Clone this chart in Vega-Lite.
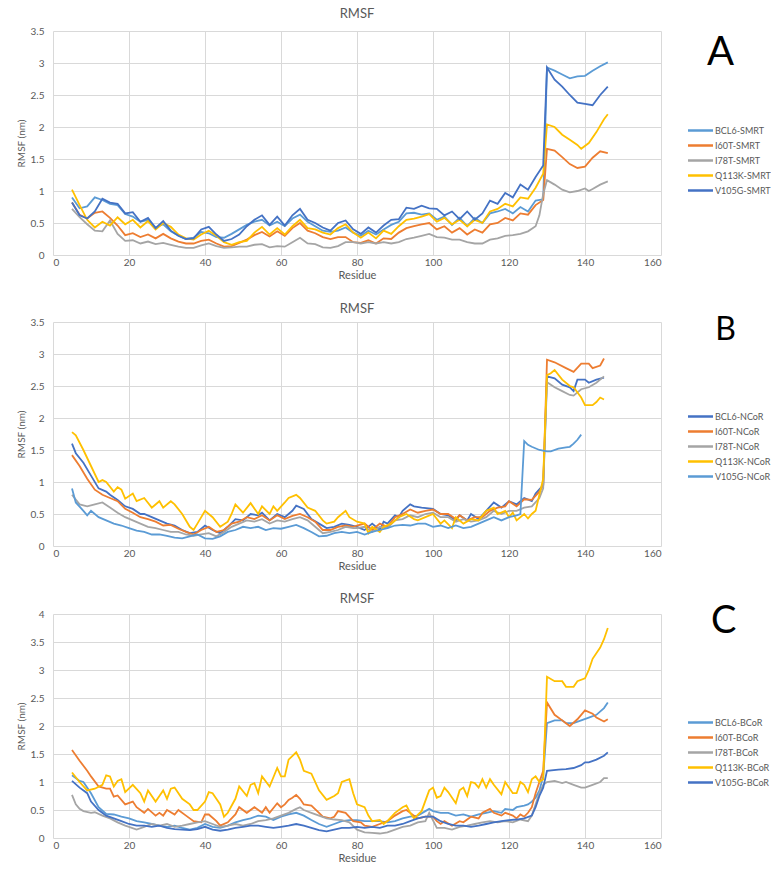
{
"$schema": "https://vega.github.io/schema/vega-lite/v6.json",
"padding": {"left": 16, "top": 8, "right": 0, "bottom": 0},
"spacing": 22,
"config": {
 "font": "Lato",
 "view": {"stroke": null},
 "title": {"fontSize": 13, "fontWeight": "normal", "color": "#595959"},
 "axis": {"grid": true, "gridColor": "#d9d9d9", "gridWidth": 1, "domain": false, "ticks": false, "labelColor": "#595959", "labelFontSize": 10, "titleColor": "#595959", "titleFontSize": 10, "titleFontWeight": "normal"},
 "axisX": {"labelPadding": 2, "titlePadding": 2, "titleFontSize": 11},
 "axisY": {"labelPadding": 9, "titlePadding": 4},
 "legend": {"title": null, "orient": "none", "symbolType": "M-2.5,0H2.5", "symbolSize": 100, "symbolStrokeWidth": 2.5, "symbolOffset": 6, "labelOffset": 8, "rowPadding": 3, "padding": 0, "labelFontSize": 9, "labelColor": "#595959", "labelFont": "Lato"}
},
"resolve": {"scale": {"color": "independent"}, "legend": {"color": "independent"}},
"datasets": {
"A": [
{"s":"BCL6","r":5,"v":0.90},{"s":"BCL6","r":7,"v":0.73},{"s":"BCL6","r":9,"v":0.76},{"s":"BCL6","r":11,"v":0.90},{"s":"BCL6","r":13,"v":0.86},{"s":"BCL6","r":15,"v":0.80},{"s":"BCL6","r":17,"v":0.78},{"s":"BCL6","r":19,"v":0.64},{"s":"BCL6","r":21,"v":0.60},{"s":"BCL6","r":23,"v":0.52},{"s":"BCL6","r":25,"v":0.55},{"s":"BCL6","r":27,"v":0.43},{"s":"BCL6","r":29,"v":0.48},{"s":"BCL6","r":31,"v":0.37},{"s":"BCL6","r":33,"v":0.30},{"s":"BCL6","r":35,"v":0.25},{"s":"BCL6","r":37,"v":0.27},{"s":"BCL6","r":39,"v":0.36},{"s":"BCL6","r":41,"v":0.34},{"s":"BCL6","r":43,"v":0.28},{"s":"BCL6","r":45,"v":0.27},{"s":"BCL6","r":47,"v":0.33},{"s":"BCL6","r":49,"v":0.40},{"s":"BCL6","r":51,"v":0.47},{"s":"BCL6","r":53,"v":0.52},{"s":"BCL6","r":55,"v":0.55},{"s":"BCL6","r":57,"v":0.46},{"s":"BCL6","r":59,"v":0.52},{"s":"BCL6","r":61,"v":0.45},{"s":"BCL6","r":63,"v":0.57},{"s":"BCL6","r":65,"v":0.63},{"s":"BCL6","r":67,"v":0.52},{"s":"BCL6","r":69,"v":0.45},{"s":"BCL6","r":71,"v":0.38},{"s":"BCL6","r":73,"v":0.36},{"s":"BCL6","r":75,"v":0.38},{"s":"BCL6","r":77,"v":0.43},{"s":"BCL6","r":79,"v":0.35},{"s":"BCL6","r":81,"v":0.30},{"s":"BCL6","r":83,"v":0.38},{"s":"BCL6","r":85,"v":0.32},{"s":"BCL6","r":87,"v":0.40},{"s":"BCL6","r":89,"v":0.47},{"s":"BCL6","r":91,"v":0.52},{"s":"BCL6","r":93,"v":0.65},{"s":"BCL6","r":95,"v":0.66},{"s":"BCL6","r":97,"v":0.63},{"s":"BCL6","r":99,"v":0.65},{"s":"BCL6","r":101,"v":0.55},{"s":"BCL6","r":103,"v":0.60},{"s":"BCL6","r":105,"v":0.47},{"s":"BCL6","r":107,"v":0.58},{"s":"BCL6","r":109,"v":0.45},{"s":"BCL6","r":111,"v":0.58},{"s":"BCL6","r":113,"v":0.50},{"s":"BCL6","r":115,"v":0.65},{"s":"BCL6","r":117,"v":0.68},{"s":"BCL6","r":119,"v":0.72},{"s":"BCL6","r":121,"v":0.65},{"s":"BCL6","r":123,"v":0.75},{"s":"BCL6","r":125,"v":0.68},{"s":"BCL6","r":127,"v":0.85},{"s":"BCL6","r":129,"v":0.87},{"s":"BCL6","r":130,"v":2.93},{"s":"BCL6","r":132,"v":2.88},{"s":"BCL6","r":134,"v":2.82},{"s":"BCL6","r":136,"v":2.76},{"s":"BCL6","r":138,"v":2.79},{"s":"BCL6","r":140,"v":2.80},{"s":"BCL6","r":142,"v":2.88},{"s":"BCL6","r":144,"v":2.95},{"s":"BCL6","r":146,"v":3.01},
{"s":"I60T","r":5,"v":0.82},{"s":"I60T","r":7,"v":0.63},{"s":"I60T","r":9,"v":0.57},{"s":"I60T","r":11,"v":0.66},{"s":"I60T","r":13,"v":0.68},{"s":"I60T","r":15,"v":0.58},{"s":"I60T","r":17,"v":0.46},{"s":"I60T","r":19,"v":0.31},{"s":"I60T","r":21,"v":0.34},{"s":"I60T","r":23,"v":0.28},{"s":"I60T","r":25,"v":0.32},{"s":"I60T","r":27,"v":0.26},{"s":"I60T","r":29,"v":0.33},{"s":"I60T","r":31,"v":0.26},{"s":"I60T","r":33,"v":0.21},{"s":"I60T","r":35,"v":0.18},{"s":"I60T","r":37,"v":0.18},{"s":"I60T","r":39,"v":0.22},{"s":"I60T","r":41,"v":0.24},{"s":"I60T","r":43,"v":0.18},{"s":"I60T","r":45,"v":0.13},{"s":"I60T","r":47,"v":0.14},{"s":"I60T","r":49,"v":0.19},{"s":"I60T","r":51,"v":0.24},{"s":"I60T","r":53,"v":0.31},{"s":"I60T","r":55,"v":0.36},{"s":"I60T","r":57,"v":0.29},{"s":"I60T","r":59,"v":0.37},{"s":"I60T","r":61,"v":0.30},{"s":"I60T","r":63,"v":0.42},{"s":"I60T","r":65,"v":0.50},{"s":"I60T","r":67,"v":0.38},{"s":"I60T","r":69,"v":0.34},{"s":"I60T","r":71,"v":0.28},{"s":"I60T","r":73,"v":0.25},{"s":"I60T","r":75,"v":0.28},{"s":"I60T","r":77,"v":0.28},{"s":"I60T","r":79,"v":0.20},{"s":"I60T","r":81,"v":0.19},{"s":"I60T","r":83,"v":0.23},{"s":"I60T","r":85,"v":0.18},{"s":"I60T","r":87,"v":0.26},{"s":"I60T","r":89,"v":0.25},{"s":"I60T","r":91,"v":0.35},{"s":"I60T","r":93,"v":0.42},{"s":"I60T","r":95,"v":0.45},{"s":"I60T","r":97,"v":0.48},{"s":"I60T","r":99,"v":0.50},{"s":"I60T","r":101,"v":0.40},{"s":"I60T","r":103,"v":0.45},{"s":"I60T","r":105,"v":0.35},{"s":"I60T","r":107,"v":0.42},{"s":"I60T","r":109,"v":0.32},{"s":"I60T","r":111,"v":0.40},{"s":"I60T","r":113,"v":0.35},{"s":"I60T","r":115,"v":0.48},{"s":"I60T","r":117,"v":0.50},{"s":"I60T","r":119,"v":0.58},{"s":"I60T","r":121,"v":0.54},{"s":"I60T","r":123,"v":0.65},{"s":"I60T","r":125,"v":0.63},{"s":"I60T","r":127,"v":0.78},{"s":"I60T","r":129,"v":0.86},{"s":"I60T","r":130,"v":1.66},{"s":"I60T","r":132,"v":1.63},{"s":"I60T","r":134,"v":1.53},{"s":"I60T","r":136,"v":1.42},{"s":"I60T","r":138,"v":1.36},{"s":"I60T","r":140,"v":1.38},{"s":"I60T","r":142,"v":1.52},{"s":"I60T","r":144,"v":1.62},{"s":"I60T","r":146,"v":1.59},
{"s":"I78T","r":5,"v":0.72},{"s":"I78T","r":7,"v":0.59},{"s":"I78T","r":9,"v":0.48},{"s":"I78T","r":11,"v":0.38},{"s":"I78T","r":13,"v":0.37},{"s":"I78T","r":15,"v":0.54},{"s":"I78T","r":17,"v":0.33},{"s":"I78T","r":19,"v":0.22},{"s":"I78T","r":21,"v":0.23},{"s":"I78T","r":23,"v":0.18},{"s":"I78T","r":25,"v":0.21},{"s":"I78T","r":27,"v":0.17},{"s":"I78T","r":29,"v":0.19},{"s":"I78T","r":31,"v":0.16},{"s":"I78T","r":33,"v":0.13},{"s":"I78T","r":35,"v":0.11},{"s":"I78T","r":37,"v":0.11},{"s":"I78T","r":39,"v":0.15},{"s":"I78T","r":41,"v":0.18},{"s":"I78T","r":43,"v":0.14},{"s":"I78T","r":45,"v":0.11},{"s":"I78T","r":47,"v":0.12},{"s":"I78T","r":49,"v":0.13},{"s":"I78T","r":51,"v":0.13},{"s":"I78T","r":53,"v":0.16},{"s":"I78T","r":55,"v":0.17},{"s":"I78T","r":57,"v":0.12},{"s":"I78T","r":59,"v":0.14},{"s":"I78T","r":61,"v":0.13},{"s":"I78T","r":63,"v":0.20},{"s":"I78T","r":65,"v":0.27},{"s":"I78T","r":67,"v":0.18},{"s":"I78T","r":69,"v":0.17},{"s":"I78T","r":71,"v":0.12},{"s":"I78T","r":73,"v":0.11},{"s":"I78T","r":75,"v":0.14},{"s":"I78T","r":77,"v":0.20},{"s":"I78T","r":79,"v":0.20},{"s":"I78T","r":81,"v":0.18},{"s":"I78T","r":83,"v":0.20},{"s":"I78T","r":85,"v":0.18},{"s":"I78T","r":87,"v":0.20},{"s":"I78T","r":89,"v":0.18},{"s":"I78T","r":91,"v":0.20},{"s":"I78T","r":93,"v":0.25},{"s":"I78T","r":95,"v":0.27},{"s":"I78T","r":97,"v":0.30},{"s":"I78T","r":99,"v":0.33},{"s":"I78T","r":101,"v":0.28},{"s":"I78T","r":103,"v":0.27},{"s":"I78T","r":105,"v":0.24},{"s":"I78T","r":107,"v":0.24},{"s":"I78T","r":109,"v":0.20},{"s":"I78T","r":111,"v":0.18},{"s":"I78T","r":113,"v":0.18},{"s":"I78T","r":115,"v":0.24},{"s":"I78T","r":117,"v":0.26},{"s":"I78T","r":119,"v":0.30},{"s":"I78T","r":121,"v":0.31},{"s":"I78T","r":123,"v":0.33},{"s":"I78T","r":125,"v":0.37},{"s":"I78T","r":127,"v":0.45},{"s":"I78T","r":128,"v":0.62},{"s":"I78T","r":129,"v":0.95},{"s":"I78T","r":130,"v":1.17},{"s":"I78T","r":132,"v":1.10},{"s":"I78T","r":134,"v":1.02},{"s":"I78T","r":136,"v":0.98},{"s":"I78T","r":138,"v":1.00},{"s":"I78T","r":140,"v":1.04},{"s":"I78T","r":141,"v":1.00},{"s":"I78T","r":142,"v":1.03},{"s":"I78T","r":144,"v":1.10},{"s":"I78T","r":146,"v":1.15},
{"s":"Q113K","r":5,"v":1.02},{"s":"Q113K","r":7,"v":0.78},{"s":"Q113K","r":9,"v":0.55},{"s":"Q113K","r":11,"v":0.43},{"s":"Q113K","r":13,"v":0.52},{"s":"Q113K","r":15,"v":0.46},{"s":"Q113K","r":17,"v":0.59},{"s":"Q113K","r":19,"v":0.48},{"s":"Q113K","r":21,"v":0.55},{"s":"Q113K","r":23,"v":0.43},{"s":"Q113K","r":25,"v":0.53},{"s":"Q113K","r":27,"v":0.40},{"s":"Q113K","r":29,"v":0.50},{"s":"Q113K","r":31,"v":0.44},{"s":"Q113K","r":33,"v":0.32},{"s":"Q113K","r":35,"v":0.26},{"s":"Q113K","r":37,"v":0.24},{"s":"Q113K","r":39,"v":0.32},{"s":"Q113K","r":41,"v":0.38},{"s":"Q113K","r":43,"v":0.30},{"s":"Q113K","r":45,"v":0.20},{"s":"Q113K","r":47,"v":0.16},{"s":"Q113K","r":49,"v":0.20},{"s":"Q113K","r":51,"v":0.22},{"s":"Q113K","r":53,"v":0.35},{"s":"Q113K","r":55,"v":0.44},{"s":"Q113K","r":57,"v":0.32},{"s":"Q113K","r":59,"v":0.42},{"s":"Q113K","r":61,"v":0.32},{"s":"Q113K","r":63,"v":0.45},{"s":"Q113K","r":65,"v":0.55},{"s":"Q113K","r":67,"v":0.42},{"s":"Q113K","r":69,"v":0.40},{"s":"Q113K","r":71,"v":0.35},{"s":"Q113K","r":73,"v":0.32},{"s":"Q113K","r":75,"v":0.42},{"s":"Q113K","r":77,"v":0.48},{"s":"Q113K","r":79,"v":0.35},{"s":"Q113K","r":81,"v":0.27},{"s":"Q113K","r":83,"v":0.35},{"s":"Q113K","r":85,"v":0.26},{"s":"Q113K","r":87,"v":0.38},{"s":"Q113K","r":89,"v":0.33},{"s":"Q113K","r":91,"v":0.45},{"s":"Q113K","r":93,"v":0.55},{"s":"Q113K","r":95,"v":0.57},{"s":"Q113K","r":97,"v":0.60},{"s":"Q113K","r":99,"v":0.64},{"s":"Q113K","r":101,"v":0.52},{"s":"Q113K","r":103,"v":0.58},{"s":"Q113K","r":105,"v":0.48},{"s":"Q113K","r":107,"v":0.55},{"s":"Q113K","r":109,"v":0.45},{"s":"Q113K","r":111,"v":0.55},{"s":"Q113K","r":113,"v":0.50},{"s":"Q113K","r":115,"v":0.68},{"s":"Q113K","r":117,"v":0.72},{"s":"Q113K","r":119,"v":0.80},{"s":"Q113K","r":121,"v":0.76},{"s":"Q113K","r":123,"v":0.90},{"s":"Q113K","r":125,"v":0.88},{"s":"Q113K","r":127,"v":1.05},{"s":"Q113K","r":129,"v":1.27},{"s":"Q113K","r":130,"v":2.04},{"s":"Q113K","r":132,"v":2.00},{"s":"Q113K","r":134,"v":1.88},{"s":"Q113K","r":136,"v":1.80},{"s":"Q113K","r":138,"v":1.72},{"s":"Q113K","r":139,"v":1.66},{"s":"Q113K","r":141,"v":1.75},{"s":"Q113K","r":143,"v":1.92},{"s":"Q113K","r":145,"v":2.12},{"s":"Q113K","r":146,"v":2.20},
{"s":"V105G","r":5,"v":0.82},{"s":"V105G","r":7,"v":0.62},{"s":"V105G","r":9,"v":0.57},{"s":"V105G","r":11,"v":0.68},{"s":"V105G","r":13,"v":0.88},{"s":"V105G","r":15,"v":0.82},{"s":"V105G","r":17,"v":0.80},{"s":"V105G","r":19,"v":0.65},{"s":"V105G","r":21,"v":0.67},{"s":"V105G","r":23,"v":0.52},{"s":"V105G","r":25,"v":0.58},{"s":"V105G","r":27,"v":0.42},{"s":"V105G","r":29,"v":0.53},{"s":"V105G","r":31,"v":0.38},{"s":"V105G","r":33,"v":0.30},{"s":"V105G","r":35,"v":0.25},{"s":"V105G","r":37,"v":0.26},{"s":"V105G","r":39,"v":0.40},{"s":"V105G","r":41,"v":0.44},{"s":"V105G","r":43,"v":0.32},{"s":"V105G","r":45,"v":0.22},{"s":"V105G","r":47,"v":0.25},{"s":"V105G","r":49,"v":0.32},{"s":"V105G","r":51,"v":0.45},{"s":"V105G","r":53,"v":0.55},{"s":"V105G","r":55,"v":0.62},{"s":"V105G","r":57,"v":0.47},{"s":"V105G","r":59,"v":0.60},{"s":"V105G","r":61,"v":0.46},{"s":"V105G","r":63,"v":0.62},{"s":"V105G","r":65,"v":0.72},{"s":"V105G","r":67,"v":0.55},{"s":"V105G","r":69,"v":0.50},{"s":"V105G","r":71,"v":0.43},{"s":"V105G","r":73,"v":0.38},{"s":"V105G","r":75,"v":0.50},{"s":"V105G","r":77,"v":0.54},{"s":"V105G","r":79,"v":0.40},{"s":"V105G","r":81,"v":0.33},{"s":"V105G","r":83,"v":0.43},{"s":"V105G","r":85,"v":0.35},{"s":"V105G","r":87,"v":0.46},{"s":"V105G","r":89,"v":0.55},{"s":"V105G","r":91,"v":0.56},{"s":"V105G","r":93,"v":0.74},{"s":"V105G","r":95,"v":0.72},{"s":"V105G","r":97,"v":0.77},{"s":"V105G","r":99,"v":0.73},{"s":"V105G","r":101,"v":0.72},{"s":"V105G","r":103,"v":0.62},{"s":"V105G","r":105,"v":0.68},{"s":"V105G","r":107,"v":0.56},{"s":"V105G","r":109,"v":0.68},{"s":"V105G","r":111,"v":0.55},{"s":"V105G","r":113,"v":0.65},{"s":"V105G","r":115,"v":0.85},{"s":"V105G","r":117,"v":0.80},{"s":"V105G","r":119,"v":0.97},{"s":"V105G","r":121,"v":0.90},{"s":"V105G","r":123,"v":1.10},{"s":"V105G","r":125,"v":1.02},{"s":"V105G","r":127,"v":1.22},{"s":"V105G","r":129,"v":1.40},{"s":"V105G","r":130,"v":2.93},{"s":"V105G","r":132,"v":2.74},{"s":"V105G","r":134,"v":2.63},{"s":"V105G","r":136,"v":2.50},{"s":"V105G","r":138,"v":2.38},{"s":"V105G","r":140,"v":2.36},{"s":"V105G","r":142,"v":2.34},{"s":"V105G","r":144,"v":2.50},{"s":"V105G","r":146,"v":2.63}
],
"B": [
{"s":"BCL6","r":5,"v":1.60},{"s":"BCL6","r":6,"v":1.45},{"s":"BCL6","r":8,"v":1.30},{"s":"BCL6","r":10,"v":1.10},{"s":"BCL6","r":12,"v":0.90},{"s":"BCL6","r":14,"v":0.85},{"s":"BCL6","r":15,"v":0.80},{"s":"BCL6","r":17,"v":0.72},{"s":"BCL6","r":19,"v":0.62},{"s":"BCL6","r":21,"v":0.58},{"s":"BCL6","r":23,"v":0.50},{"s":"BCL6","r":24,"v":0.50},{"s":"BCL6","r":26,"v":0.45},{"s":"BCL6","r":28,"v":0.40},{"s":"BCL6","r":30,"v":0.35},{"s":"BCL6","r":32,"v":0.32},{"s":"BCL6","r":34,"v":0.25},{"s":"BCL6","r":36,"v":0.20},{"s":"BCL6","r":38,"v":0.22},{"s":"BCL6","r":40,"v":0.32},{"s":"BCL6","r":42,"v":0.25},{"s":"BCL6","r":44,"v":0.20},{"s":"BCL6","r":46,"v":0.30},{"s":"BCL6","r":48,"v":0.42},{"s":"BCL6","r":50,"v":0.40},{"s":"BCL6","r":52,"v":0.50},{"s":"BCL6","r":54,"v":0.48},{"s":"BCL6","r":55,"v":0.52},{"s":"BCL6","r":57,"v":0.40},{"s":"BCL6","r":59,"v":0.50},{"s":"BCL6","r":61,"v":0.45},{"s":"BCL6","r":63,"v":0.55},{"s":"BCL6","r":64,"v":0.63},{"s":"BCL6","r":66,"v":0.58},{"s":"BCL6","r":68,"v":0.42},{"s":"BCL6","r":70,"v":0.35},{"s":"BCL6","r":72,"v":0.28},{"s":"BCL6","r":74,"v":0.30},{"s":"BCL6","r":76,"v":0.35},{"s":"BCL6","r":78,"v":0.33},{"s":"BCL6","r":80,"v":0.30},{"s":"BCL6","r":82,"v":0.25},{"s":"BCL6","r":84,"v":0.35},{"s":"BCL6","r":86,"v":0.25},{"s":"BCL6","r":87,"v":0.38},{"s":"BCL6","r":88,"v":0.35},{"s":"BCL6","r":90,"v":0.48},{"s":"BCL6","r":91,"v":0.45},{"s":"BCL6","r":92,"v":0.55},{"s":"BCL6","r":94,"v":0.65},{"s":"BCL6","r":95,"v":0.62},{"s":"BCL6","r":97,"v":0.60},{"s":"BCL6","r":100,"v":0.58},{"s":"BCL6","r":102,"v":0.50},{"s":"BCL6","r":104,"v":0.48},{"s":"BCL6","r":106,"v":0.40},{"s":"BCL6","r":107,"v":0.48},{"s":"BCL6","r":109,"v":0.40},{"s":"BCL6","r":110,"v":0.50},{"s":"BCL6","r":112,"v":0.42},{"s":"BCL6","r":114,"v":0.55},{"s":"BCL6","r":116,"v":0.68},{"s":"BCL6","r":118,"v":0.60},{"s":"BCL6","r":120,"v":0.70},{"s":"BCL6","r":122,"v":0.65},{"s":"BCL6","r":124,"v":0.75},{"s":"BCL6","r":126,"v":0.70},{"s":"BCL6","r":127,"v":0.82},{"s":"BCL6","r":129,"v":0.95},{"s":"BCL6","r":130,"v":2.65},{"s":"BCL6","r":132,"v":2.62},{"s":"BCL6","r":134,"v":2.52},{"s":"BCL6","r":136,"v":2.48},{"s":"BCL6","r":137,"v":2.42},{"s":"BCL6","r":138,"v":2.60},{"s":"BCL6","r":140,"v":2.60},{"s":"BCL6","r":141,"v":2.55},{"s":"BCL6","r":143,"v":2.60},{"s":"BCL6","r":145,"v":2.63},
{"s":"I60T","r":5,"v":1.42},{"s":"I60T","r":7,"v":1.25},{"s":"I60T","r":9,"v":1.05},{"s":"I60T","r":11,"v":0.88},{"s":"I60T","r":13,"v":0.80},{"s":"I60T","r":15,"v":0.75},{"s":"I60T","r":17,"v":0.70},{"s":"I60T","r":19,"v":0.58},{"s":"I60T","r":21,"v":0.52},{"s":"I60T","r":23,"v":0.45},{"s":"I60T","r":25,"v":0.42},{"s":"I60T","r":27,"v":0.38},{"s":"I60T","r":29,"v":0.32},{"s":"I60T","r":31,"v":0.33},{"s":"I60T","r":33,"v":0.27},{"s":"I60T","r":35,"v":0.22},{"s":"I60T","r":37,"v":0.18},{"s":"I60T","r":39,"v":0.25},{"s":"I60T","r":41,"v":0.30},{"s":"I60T","r":43,"v":0.22},{"s":"I60T","r":45,"v":0.25},{"s":"I60T","r":47,"v":0.35},{"s":"I60T","r":49,"v":0.38},{"s":"I60T","r":51,"v":0.45},{"s":"I60T","r":53,"v":0.42},{"s":"I60T","r":55,"v":0.48},{"s":"I60T","r":57,"v":0.40},{"s":"I60T","r":59,"v":0.48},{"s":"I60T","r":61,"v":0.42},{"s":"I60T","r":63,"v":0.47},{"s":"I60T","r":65,"v":0.50},{"s":"I60T","r":67,"v":0.45},{"s":"I60T","r":69,"v":0.38},{"s":"I60T","r":71,"v":0.25},{"s":"I60T","r":73,"v":0.25},{"s":"I60T","r":75,"v":0.30},{"s":"I60T","r":77,"v":0.32},{"s":"I60T","r":79,"v":0.30},{"s":"I60T","r":80,"v":0.32},{"s":"I60T","r":82,"v":0.35},{"s":"I60T","r":84,"v":0.25},{"s":"I60T","r":86,"v":0.35},{"s":"I60T","r":88,"v":0.30},{"s":"I60T","r":90,"v":0.45},{"s":"I60T","r":92,"v":0.50},{"s":"I60T","r":94,"v":0.57},{"s":"I60T","r":96,"v":0.52},{"s":"I60T","r":98,"v":0.55},{"s":"I60T","r":100,"v":0.57},{"s":"I60T","r":102,"v":0.50},{"s":"I60T","r":104,"v":0.50},{"s":"I60T","r":106,"v":0.42},{"s":"I60T","r":107,"v":0.48},{"s":"I60T","r":109,"v":0.40},{"s":"I60T","r":111,"v":0.45},{"s":"I60T","r":113,"v":0.45},{"s":"I60T","r":115,"v":0.55},{"s":"I60T","r":117,"v":0.60},{"s":"I60T","r":119,"v":0.62},{"s":"I60T","r":120,"v":0.70},{"s":"I60T","r":122,"v":0.62},{"s":"I60T","r":124,"v":0.73},{"s":"I60T","r":126,"v":0.72},{"s":"I60T","r":128,"v":0.85},{"s":"I60T","r":129,"v":0.95},{"s":"I60T","r":130,"v":2.91},{"s":"I60T","r":132,"v":2.87},{"s":"I60T","r":135,"v":2.78},{"s":"I60T","r":137,"v":2.72},{"s":"I60T","r":139,"v":2.85},{"s":"I60T","r":141,"v":2.85},{"s":"I60T","r":142,"v":2.78},{"s":"I60T","r":144,"v":2.82},{"s":"I60T","r":145,"v":2.93},
{"s":"I78T","r":5,"v":0.80},{"s":"I78T","r":7,"v":0.65},{"s":"I78T","r":9,"v":0.62},{"s":"I78T","r":11,"v":0.65},{"s":"I78T","r":13,"v":0.68},{"s":"I78T","r":15,"v":0.60},{"s":"I78T","r":17,"v":0.52},{"s":"I78T","r":19,"v":0.45},{"s":"I78T","r":21,"v":0.40},{"s":"I78T","r":23,"v":0.35},{"s":"I78T","r":25,"v":0.30},{"s":"I78T","r":27,"v":0.28},{"s":"I78T","r":29,"v":0.25},{"s":"I78T","r":31,"v":0.22},{"s":"I78T","r":33,"v":0.22},{"s":"I78T","r":35,"v":0.18},{"s":"I78T","r":37,"v":0.16},{"s":"I78T","r":39,"v":0.18},{"s":"I78T","r":41,"v":0.20},{"s":"I78T","r":43,"v":0.15},{"s":"I78T","r":45,"v":0.22},{"s":"I78T","r":47,"v":0.30},{"s":"I78T","r":49,"v":0.35},{"s":"I78T","r":51,"v":0.40},{"s":"I78T","r":53,"v":0.38},{"s":"I78T","r":55,"v":0.42},{"s":"I78T","r":57,"v":0.35},{"s":"I78T","r":59,"v":0.40},{"s":"I78T","r":61,"v":0.38},{"s":"I78T","r":63,"v":0.42},{"s":"I78T","r":65,"v":0.45},{"s":"I78T","r":67,"v":0.40},{"s":"I78T","r":69,"v":0.30},{"s":"I78T","r":71,"v":0.20},{"s":"I78T","r":73,"v":0.22},{"s":"I78T","r":75,"v":0.25},{"s":"I78T","r":77,"v":0.30},{"s":"I78T","r":79,"v":0.28},{"s":"I78T","r":80,"v":0.28},{"s":"I78T","r":82,"v":0.30},{"s":"I78T","r":84,"v":0.22},{"s":"I78T","r":86,"v":0.30},{"s":"I78T","r":88,"v":0.28},{"s":"I78T","r":90,"v":0.40},{"s":"I78T","r":92,"v":0.42},{"s":"I78T","r":94,"v":0.48},{"s":"I78T","r":96,"v":0.45},{"s":"I78T","r":98,"v":0.50},{"s":"I78T","r":100,"v":0.52},{"s":"I78T","r":102,"v":0.45},{"s":"I78T","r":104,"v":0.45},{"s":"I78T","r":106,"v":0.38},{"s":"I78T","r":108,"v":0.42},{"s":"I78T","r":110,"v":0.38},{"s":"I78T","r":112,"v":0.40},{"s":"I78T","r":114,"v":0.45},{"s":"I78T","r":116,"v":0.55},{"s":"I78T","r":118,"v":0.50},{"s":"I78T","r":120,"v":0.55},{"s":"I78T","r":122,"v":0.55},{"s":"I78T","r":124,"v":0.60},{"s":"I78T","r":126,"v":0.62},{"s":"I78T","r":128,"v":0.75},{"s":"I78T","r":129,"v":0.90},{"s":"I78T","r":130,"v":2.56},{"s":"I78T","r":132,"v":2.48},{"s":"I78T","r":134,"v":2.42},{"s":"I78T","r":136,"v":2.36},{"s":"I78T","r":137,"v":2.35},{"s":"I78T","r":139,"v":2.45},{"s":"I78T","r":141,"v":2.48},{"s":"I78T","r":143,"v":2.55},{"s":"I78T","r":145,"v":2.65},
{"s":"Q113K","r":5,"v":1.78},{"s":"Q113K","r":6,"v":1.73},{"s":"Q113K","r":8,"v":1.50},{"s":"Q113K","r":10,"v":1.25},{"s":"Q113K","r":12,"v":1.00},{"s":"Q113K","r":13,"v":1.03},{"s":"Q113K","r":14,"v":1.00},{"s":"Q113K","r":16,"v":0.85},{"s":"Q113K","r":17,"v":0.92},{"s":"Q113K","r":18,"v":0.88},{"s":"Q113K","r":19,"v":0.74},{"s":"Q113K","r":21,"v":0.82},{"s":"Q113K","r":22,"v":0.70},{"s":"Q113K","r":24,"v":0.75},{"s":"Q113K","r":26,"v":0.60},{"s":"Q113K","r":28,"v":0.70},{"s":"Q113K","r":29,"v":0.60},{"s":"Q113K","r":31,"v":0.70},{"s":"Q113K","r":32,"v":0.65},{"s":"Q113K","r":34,"v":0.50},{"s":"Q113K","r":36,"v":0.30},{"s":"Q113K","r":37,"v":0.25},{"s":"Q113K","r":38,"v":0.35},{"s":"Q113K","r":40,"v":0.55},{"s":"Q113K","r":42,"v":0.45},{"s":"Q113K","r":44,"v":0.30},{"s":"Q113K","r":46,"v":0.38},{"s":"Q113K","r":47,"v":0.50},{"s":"Q113K","r":48,"v":0.65},{"s":"Q113K","r":50,"v":0.52},{"s":"Q113K","r":52,"v":0.67},{"s":"Q113K","r":54,"v":0.50},{"s":"Q113K","r":55,"v":0.62},{"s":"Q113K","r":57,"v":0.50},{"s":"Q113K","r":58,"v":0.62},{"s":"Q113K","r":59,"v":0.55},{"s":"Q113K","r":61,"v":0.68},{"s":"Q113K","r":62,"v":0.75},{"s":"Q113K","r":64,"v":0.80},{"s":"Q113K","r":65,"v":0.75},{"s":"Q113K","r":67,"v":0.60},{"s":"Q113K","r":69,"v":0.55},{"s":"Q113K","r":71,"v":0.40},{"s":"Q113K","r":72,"v":0.35},{"s":"Q113K","r":74,"v":0.38},{"s":"Q113K","r":75,"v":0.45},{"s":"Q113K","r":77,"v":0.55},{"s":"Q113K","r":78,"v":0.45},{"s":"Q113K","r":80,"v":0.38},{"s":"Q113K","r":82,"v":0.35},{"s":"Q113K","r":83,"v":0.20},{"s":"Q113K","r":84,"v":0.30},{"s":"Q113K","r":86,"v":0.22},{"s":"Q113K","r":87,"v":0.30},{"s":"Q113K","r":89,"v":0.35},{"s":"Q113K","r":91,"v":0.45},{"s":"Q113K","r":93,"v":0.50},{"s":"Q113K","r":95,"v":0.42},{"s":"Q113K","r":96,"v":0.40},{"s":"Q113K","r":98,"v":0.45},{"s":"Q113K","r":100,"v":0.50},{"s":"Q113K","r":102,"v":0.35},{"s":"Q113K","r":103,"v":0.40},{"s":"Q113K","r":105,"v":0.28},{"s":"Q113K","r":106,"v":0.45},{"s":"Q113K","r":108,"v":0.35},{"s":"Q113K","r":110,"v":0.42},{"s":"Q113K","r":112,"v":0.40},{"s":"Q113K","r":114,"v":0.55},{"s":"Q113K","r":116,"v":0.60},{"s":"Q113K","r":117,"v":0.50},{"s":"Q113K","r":119,"v":0.55},{"s":"Q113K","r":120,"v":0.45},{"s":"Q113K","r":121,"v":0.52},{"s":"Q113K","r":122,"v":0.40},{"s":"Q113K","r":124,"v":0.50},{"s":"Q113K","r":125,"v":0.43},{"s":"Q113K","r":126,"v":0.50},{"s":"Q113K","r":127,"v":0.55},{"s":"Q113K","r":128,"v":0.80},{"s":"Q113K","r":129,"v":1.05},{"s":"Q113K","r":130,"v":2.67},{"s":"Q113K","r":131,"v":2.70},{"s":"Q113K","r":132,"v":2.75},{"s":"Q113K","r":134,"v":2.60},{"s":"Q113K","r":136,"v":2.50},{"s":"Q113K","r":137,"v":2.48},{"s":"Q113K","r":139,"v":2.32},{"s":"Q113K","r":140,"v":2.20},{"s":"Q113K","r":142,"v":2.20},{"s":"Q113K","r":143,"v":2.25},{"s":"Q113K","r":144,"v":2.32},{"s":"Q113K","r":145,"v":2.29},
{"s":"V105G","r":5,"v":0.90},{"s":"V105G","r":6,"v":0.68},{"s":"V105G","r":8,"v":0.55},{"s":"V105G","r":9,"v":0.48},{"s":"V105G","r":10,"v":0.55},{"s":"V105G","r":12,"v":0.45},{"s":"V105G","r":14,"v":0.40},{"s":"V105G","r":16,"v":0.35},{"s":"V105G","r":18,"v":0.32},{"s":"V105G","r":20,"v":0.28},{"s":"V105G","r":22,"v":0.24},{"s":"V105G","r":24,"v":0.22},{"s":"V105G","r":26,"v":0.18},{"s":"V105G","r":28,"v":0.18},{"s":"V105G","r":30,"v":0.16},{"s":"V105G","r":32,"v":0.13},{"s":"V105G","r":34,"v":0.12},{"s":"V105G","r":36,"v":0.15},{"s":"V105G","r":38,"v":0.18},{"s":"V105G","r":40,"v":0.12},{"s":"V105G","r":42,"v":0.11},{"s":"V105G","r":44,"v":0.15},{"s":"V105G","r":46,"v":0.22},{"s":"V105G","r":48,"v":0.25},{"s":"V105G","r":50,"v":0.30},{"s":"V105G","r":52,"v":0.28},{"s":"V105G","r":54,"v":0.30},{"s":"V105G","r":56,"v":0.25},{"s":"V105G","r":58,"v":0.28},{"s":"V105G","r":60,"v":0.27},{"s":"V105G","r":62,"v":0.30},{"s":"V105G","r":64,"v":0.33},{"s":"V105G","r":66,"v":0.28},{"s":"V105G","r":68,"v":0.22},{"s":"V105G","r":70,"v":0.15},{"s":"V105G","r":72,"v":0.16},{"s":"V105G","r":74,"v":0.20},{"s":"V105G","r":76,"v":0.22},{"s":"V105G","r":78,"v":0.20},{"s":"V105G","r":80,"v":0.22},{"s":"V105G","r":82,"v":0.18},{"s":"V105G","r":84,"v":0.22},{"s":"V105G","r":86,"v":0.25},{"s":"V105G","r":88,"v":0.28},{"s":"V105G","r":90,"v":0.32},{"s":"V105G","r":92,"v":0.33},{"s":"V105G","r":94,"v":0.32},{"s":"V105G","r":96,"v":0.35},{"s":"V105G","r":98,"v":0.35},{"s":"V105G","r":100,"v":0.30},{"s":"V105G","r":102,"v":0.32},{"s":"V105G","r":104,"v":0.28},{"s":"V105G","r":106,"v":0.32},{"s":"V105G","r":108,"v":0.28},{"s":"V105G","r":110,"v":0.30},{"s":"V105G","r":112,"v":0.35},{"s":"V105G","r":114,"v":0.40},{"s":"V105G","r":116,"v":0.45},{"s":"V105G","r":118,"v":0.40},{"s":"V105G","r":120,"v":0.45},{"s":"V105G","r":122,"v":0.48},{"s":"V105G","r":123,"v":0.50},{"s":"V105G","r":124,"v":1.64},{"s":"V105G","r":125,"v":1.58},{"s":"V105G","r":126,"v":1.55},{"s":"V105G","r":128,"v":1.50},{"s":"V105G","r":130,"v":1.48},{"s":"V105G","r":131,"v":1.48},{"s":"V105G","r":133,"v":1.52},{"s":"V105G","r":135,"v":1.54},{"s":"V105G","r":136,"v":1.55},{"s":"V105G","r":137,"v":1.60},{"s":"V105G","r":138,"v":1.66},{"s":"V105G","r":139,"v":1.74}
],
"C": [
{"s":"BCL6","r":5,"v":1.12},{"s":"BCL6","r":7,"v":1.02},{"s":"BCL6","r":8,"v":1.00},{"s":"BCL6","r":10,"v":0.80},{"s":"BCL6","r":12,"v":0.55},{"s":"BCL6","r":14,"v":0.43},{"s":"BCL6","r":16,"v":0.42},{"s":"BCL6","r":18,"v":0.38},{"s":"BCL6","r":20,"v":0.35},{"s":"BCL6","r":22,"v":0.30},{"s":"BCL6","r":24,"v":0.28},{"s":"BCL6","r":26,"v":0.25},{"s":"BCL6","r":28,"v":0.22},{"s":"BCL6","r":30,"v":0.20},{"s":"BCL6","r":32,"v":0.22},{"s":"BCL6","r":34,"v":0.18},{"s":"BCL6","r":36,"v":0.15},{"s":"BCL6","r":38,"v":0.18},{"s":"BCL6","r":40,"v":0.25},{"s":"BCL6","r":42,"v":0.20},{"s":"BCL6","r":44,"v":0.18},{"s":"BCL6","r":46,"v":0.22},{"s":"BCL6","r":48,"v":0.28},{"s":"BCL6","r":50,"v":0.32},{"s":"BCL6","r":52,"v":0.35},{"s":"BCL6","r":54,"v":0.40},{"s":"BCL6","r":56,"v":0.38},{"s":"BCL6","r":58,"v":0.32},{"s":"BCL6","r":60,"v":0.38},{"s":"BCL6","r":62,"v":0.42},{"s":"BCL6","r":64,"v":0.45},{"s":"BCL6","r":66,"v":0.40},{"s":"BCL6","r":68,"v":0.32},{"s":"BCL6","r":70,"v":0.25},{"s":"BCL6","r":72,"v":0.20},{"s":"BCL6","r":74,"v":0.25},{"s":"BCL6","r":76,"v":0.30},{"s":"BCL6","r":78,"v":0.32},{"s":"BCL6","r":80,"v":0.32},{"s":"BCL6","r":82,"v":0.30},{"s":"BCL6","r":84,"v":0.30},{"s":"BCL6","r":86,"v":0.30},{"s":"BCL6","r":88,"v":0.28},{"s":"BCL6","r":90,"v":0.30},{"s":"BCL6","r":92,"v":0.35},{"s":"BCL6","r":94,"v":0.38},{"s":"BCL6","r":96,"v":0.40},{"s":"BCL6","r":98,"v":0.48},{"s":"BCL6","r":99,"v":0.52},{"s":"BCL6","r":100,"v":0.48},{"s":"BCL6","r":102,"v":0.45},{"s":"BCL6","r":104,"v":0.45},{"s":"BCL6","r":106,"v":0.40},{"s":"BCL6","r":108,"v":0.42},{"s":"BCL6","r":110,"v":0.38},{"s":"BCL6","r":112,"v":0.42},{"s":"BCL6","r":114,"v":0.45},{"s":"BCL6","r":116,"v":0.48},{"s":"BCL6","r":118,"v":0.45},{"s":"BCL6","r":119,"v":0.52},{"s":"BCL6","r":121,"v":0.50},{"s":"BCL6","r":122,"v":0.55},{"s":"BCL6","r":124,"v":0.58},{"s":"BCL6","r":125,"v":0.60},{"s":"BCL6","r":126,"v":0.65},{"s":"BCL6","r":127,"v":0.72},{"s":"BCL6","r":128,"v":0.85},{"s":"BCL6","r":129,"v":1.10},{"s":"BCL6","r":130,"v":2.05},{"s":"BCL6","r":132,"v":2.10},{"s":"BCL6","r":134,"v":2.10},{"s":"BCL6","r":135,"v":2.05},{"s":"BCL6","r":137,"v":2.05},{"s":"BCL6","r":139,"v":2.10},{"s":"BCL6","r":141,"v":2.15},{"s":"BCL6","r":143,"v":2.20},{"s":"BCL6","r":145,"v":2.32},{"s":"BCL6","r":146,"v":2.42},
{"s":"I60T","r":5,"v":1.57},{"s":"I60T","r":7,"v":1.38},{"s":"I60T","r":9,"v":1.20},{"s":"I60T","r":10,"v":1.10},{"s":"I60T","r":12,"v":0.92},{"s":"I60T","r":14,"v":0.88},{"s":"I60T","r":15,"v":0.88},{"s":"I60T","r":16,"v":0.74},{"s":"I60T","r":17,"v":0.76},{"s":"I60T","r":19,"v":0.60},{"s":"I60T","r":21,"v":0.65},{"s":"I60T","r":22,"v":0.55},{"s":"I60T","r":24,"v":0.45},{"s":"I60T","r":25,"v":0.52},{"s":"I60T","r":27,"v":0.40},{"s":"I60T","r":28,"v":0.45},{"s":"I60T","r":29,"v":0.40},{"s":"I60T","r":30,"v":0.50},{"s":"I60T","r":32,"v":0.42},{"s":"I60T","r":33,"v":0.50},{"s":"I60T","r":35,"v":0.40},{"s":"I60T","r":37,"v":0.30},{"s":"I60T","r":39,"v":0.28},{"s":"I60T","r":40,"v":0.42},{"s":"I60T","r":41,"v":0.42},{"s":"I60T","r":43,"v":0.30},{"s":"I60T","r":44,"v":0.22},{"s":"I60T","r":46,"v":0.28},{"s":"I60T","r":48,"v":0.42},{"s":"I60T","r":49,"v":0.55},{"s":"I60T","r":51,"v":0.45},{"s":"I60T","r":53,"v":0.55},{"s":"I60T","r":55,"v":0.45},{"s":"I60T","r":56,"v":0.55},{"s":"I60T","r":57,"v":0.45},{"s":"I60T","r":59,"v":0.62},{"s":"I60T","r":60,"v":0.55},{"s":"I60T","r":61,"v":0.60},{"s":"I60T","r":62,"v":0.68},{"s":"I60T","r":63,"v":0.72},{"s":"I60T","r":64,"v":0.77},{"s":"I60T","r":65,"v":0.70},{"s":"I60T","r":66,"v":0.60},{"s":"I60T","r":68,"v":0.58},{"s":"I60T","r":70,"v":0.45},{"s":"I60T","r":71,"v":0.38},{"s":"I60T","r":73,"v":0.35},{"s":"I60T","r":74,"v":0.38},{"s":"I60T","r":75,"v":0.48},{"s":"I60T","r":77,"v":0.45},{"s":"I60T","r":79,"v":0.30},{"s":"I60T","r":81,"v":0.28},{"s":"I60T","r":82,"v":0.22},{"s":"I60T","r":84,"v":0.20},{"s":"I60T","r":86,"v":0.25},{"s":"I60T","r":88,"v":0.30},{"s":"I60T","r":90,"v":0.40},{"s":"I60T","r":92,"v":0.48},{"s":"I60T","r":93,"v":0.50},{"s":"I60T","r":95,"v":0.40},{"s":"I60T","r":96,"v":0.35},{"s":"I60T","r":98,"v":0.38},{"s":"I60T","r":100,"v":0.38},{"s":"I60T","r":101,"v":0.30},{"s":"I60T","r":102,"v":0.25},{"s":"I60T","r":103,"v":0.30},{"s":"I60T","r":105,"v":0.22},{"s":"I60T","r":107,"v":0.30},{"s":"I60T","r":108,"v":0.28},{"s":"I60T","r":110,"v":0.38},{"s":"I60T","r":112,"v":0.35},{"s":"I60T","r":113,"v":0.45},{"s":"I60T","r":115,"v":0.52},{"s":"I60T","r":116,"v":0.45},{"s":"I60T","r":118,"v":0.40},{"s":"I60T","r":119,"v":0.45},{"s":"I60T","r":121,"v":0.40},{"s":"I60T","r":122,"v":0.35},{"s":"I60T","r":123,"v":0.42},{"s":"I60T","r":124,"v":0.38},{"s":"I60T","r":125,"v":0.45},{"s":"I60T","r":126,"v":0.55},{"s":"I60T","r":127,"v":0.80},{"s":"I60T","r":128,"v":1.00},{"s":"I60T","r":129,"v":1.20},{"s":"I60T","r":130,"v":2.42},{"s":"I60T","r":132,"v":2.20},{"s":"I60T","r":134,"v":2.10},{"s":"I60T","r":135,"v":2.05},{"s":"I60T","r":136,"v":2.00},{"s":"I60T","r":138,"v":2.12},{"s":"I60T","r":139,"v":2.20},{"s":"I60T","r":140,"v":2.28},{"s":"I60T","r":142,"v":2.22},{"s":"I60T","r":143,"v":2.15},{"s":"I60T","r":145,"v":2.08},{"s":"I60T","r":146,"v":2.12},
{"s":"I78T","r":5,"v":0.77},{"s":"I78T","r":6,"v":0.60},{"s":"I78T","r":7,"v":0.52},{"s":"I78T","r":8,"v":0.48},{"s":"I78T","r":10,"v":0.45},{"s":"I78T","r":11,"v":0.46},{"s":"I78T","r":13,"v":0.40},{"s":"I78T","r":15,"v":0.35},{"s":"I78T","r":17,"v":0.28},{"s":"I78T","r":19,"v":0.22},{"s":"I78T","r":20,"v":0.20},{"s":"I78T","r":22,"v":0.15},{"s":"I78T","r":24,"v":0.20},{"s":"I78T","r":26,"v":0.25},{"s":"I78T","r":28,"v":0.22},{"s":"I78T","r":30,"v":0.25},{"s":"I78T","r":32,"v":0.20},{"s":"I78T","r":34,"v":0.22},{"s":"I78T","r":36,"v":0.25},{"s":"I78T","r":38,"v":0.28},{"s":"I78T","r":40,"v":0.30},{"s":"I78T","r":42,"v":0.25},{"s":"I78T","r":44,"v":0.20},{"s":"I78T","r":46,"v":0.22},{"s":"I78T","r":48,"v":0.25},{"s":"I78T","r":50,"v":0.22},{"s":"I78T","r":52,"v":0.25},{"s":"I78T","r":54,"v":0.30},{"s":"I78T","r":56,"v":0.32},{"s":"I78T","r":58,"v":0.35},{"s":"I78T","r":60,"v":0.40},{"s":"I78T","r":62,"v":0.45},{"s":"I78T","r":64,"v":0.52},{"s":"I78T","r":65,"v":0.55},{"s":"I78T","r":66,"v":0.50},{"s":"I78T","r":68,"v":0.45},{"s":"I78T","r":70,"v":0.40},{"s":"I78T","r":72,"v":0.35},{"s":"I78T","r":74,"v":0.33},{"s":"I78T","r":76,"v":0.32},{"s":"I78T","r":78,"v":0.28},{"s":"I78T","r":80,"v":0.15},{"s":"I78T","r":82,"v":0.10},{"s":"I78T","r":84,"v":0.09},{"s":"I78T","r":86,"v":0.08},{"s":"I78T","r":88,"v":0.10},{"s":"I78T","r":90,"v":0.15},{"s":"I78T","r":92,"v":0.20},{"s":"I78T","r":94,"v":0.22},{"s":"I78T","r":96,"v":0.28},{"s":"I78T","r":98,"v":0.30},{"s":"I78T","r":99,"v":0.45},{"s":"I78T","r":101,"v":0.18},{"s":"I78T","r":103,"v":0.18},{"s":"I78T","r":105,"v":0.15},{"s":"I78T","r":107,"v":0.20},{"s":"I78T","r":109,"v":0.22},{"s":"I78T","r":111,"v":0.25},{"s":"I78T","r":113,"v":0.28},{"s":"I78T","r":115,"v":0.30},{"s":"I78T","r":117,"v":0.28},{"s":"I78T","r":119,"v":0.30},{"s":"I78T","r":121,"v":0.28},{"s":"I78T","r":123,"v":0.33},{"s":"I78T","r":125,"v":0.30},{"s":"I78T","r":126,"v":0.40},{"s":"I78T","r":127,"v":0.60},{"s":"I78T","r":128,"v":0.80},{"s":"I78T","r":129,"v":0.95},{"s":"I78T","r":130,"v":1.00},{"s":"I78T","r":132,"v":1.02},{"s":"I78T","r":134,"v":0.98},{"s":"I78T","r":135,"v":1.00},{"s":"I78T","r":137,"v":0.95},{"s":"I78T","r":139,"v":0.90},{"s":"I78T","r":140,"v":0.90},{"s":"I78T","r":142,"v":0.95},{"s":"I78T","r":144,"v":1.00},{"s":"I78T","r":145,"v":1.07},{"s":"I78T","r":146,"v":1.07},
{"s":"Q113K","r":5,"v":1.17},{"s":"Q113K","r":7,"v":1.00},{"s":"Q113K","r":9,"v":0.85},{"s":"Q113K","r":11,"v":0.88},{"s":"Q113K","r":13,"v":0.95},{"s":"Q113K","r":14,"v":1.12},{"s":"Q113K","r":15,"v":1.10},{"s":"Q113K","r":16,"v":0.92},{"s":"Q113K","r":17,"v":1.02},{"s":"Q113K","r":18,"v":1.05},{"s":"Q113K","r":19,"v":0.82},{"s":"Q113K","r":21,"v":0.95},{"s":"Q113K","r":23,"v":0.80},{"s":"Q113K","r":24,"v":0.65},{"s":"Q113K","r":25,"v":0.85},{"s":"Q113K","r":27,"v":0.65},{"s":"Q113K","r":28,"v":0.75},{"s":"Q113K","r":29,"v":0.85},{"s":"Q113K","r":30,"v":0.70},{"s":"Q113K","r":31,"v":0.88},{"s":"Q113K","r":32,"v":0.90},{"s":"Q113K","r":34,"v":0.70},{"s":"Q113K","r":36,"v":0.60},{"s":"Q113K","r":37,"v":0.50},{"s":"Q113K","r":38,"v":0.50},{"s":"Q113K","r":40,"v":0.65},{"s":"Q113K","r":41,"v":0.82},{"s":"Q113K","r":42,"v":0.80},{"s":"Q113K","r":44,"v":0.60},{"s":"Q113K","r":45,"v":0.38},{"s":"Q113K","r":46,"v":0.45},{"s":"Q113K","r":48,"v":0.70},{"s":"Q113K","r":49,"v":0.92},{"s":"Q113K","r":51,"v":0.75},{"s":"Q113K","r":52,"v":0.95},{"s":"Q113K","r":53,"v":0.98},{"s":"Q113K","r":54,"v":0.80},{"s":"Q113K","r":55,"v":1.10},{"s":"Q113K","r":57,"v":0.92},{"s":"Q113K","r":59,"v":1.25},{"s":"Q113K","r":60,"v":1.10},{"s":"Q113K","r":61,"v":1.10},{"s":"Q113K","r":62,"v":1.40},{"s":"Q113K","r":64,"v":1.53},{"s":"Q113K","r":65,"v":1.40},{"s":"Q113K","r":66,"v":1.20},{"s":"Q113K","r":68,"v":1.15},{"s":"Q113K","r":70,"v":0.85},{"s":"Q113K","r":72,"v":0.68},{"s":"Q113K","r":74,"v":0.75},{"s":"Q113K","r":75,"v":0.80},{"s":"Q113K","r":76,"v":1.00},{"s":"Q113K","r":78,"v":1.05},{"s":"Q113K","r":79,"v":0.80},{"s":"Q113K","r":80,"v":0.60},{"s":"Q113K","r":82,"v":0.55},{"s":"Q113K","r":83,"v":0.40},{"s":"Q113K","r":84,"v":0.30},{"s":"Q113K","r":86,"v":0.32},{"s":"Q113K","r":87,"v":0.25},{"s":"Q113K","r":88,"v":0.30},{"s":"Q113K","r":90,"v":0.45},{"s":"Q113K","r":92,"v":0.55},{"s":"Q113K","r":93,"v":0.58},{"s":"Q113K","r":94,"v":0.45},{"s":"Q113K","r":95,"v":0.35},{"s":"Q113K","r":97,"v":0.48},{"s":"Q113K","r":99,"v":0.85},{"s":"Q113K","r":100,"v":0.90},{"s":"Q113K","r":101,"v":0.72},{"s":"Q113K","r":102,"v":0.75},{"s":"Q113K","r":103,"v":0.90},{"s":"Q113K","r":104,"v":0.82},{"s":"Q113K","r":106,"v":0.62},{"s":"Q113K","r":107,"v":0.85},{"s":"Q113K","r":108,"v":0.90},{"s":"Q113K","r":109,"v":0.75},{"s":"Q113K","r":110,"v":1.00},{"s":"Q113K","r":111,"v":0.98},{"s":"Q113K","r":112,"v":0.90},{"s":"Q113K","r":113,"v":1.05},{"s":"Q113K","r":114,"v":0.90},{"s":"Q113K","r":115,"v":1.05},{"s":"Q113K","r":116,"v":0.95},{"s":"Q113K","r":118,"v":0.78},{"s":"Q113K","r":119,"v":1.00},{"s":"Q113K","r":121,"v":0.80},{"s":"Q113K","r":122,"v":0.80},{"s":"Q113K","r":123,"v":1.00},{"s":"Q113K","r":124,"v":0.95},{"s":"Q113K","r":125,"v":0.82},{"s":"Q113K","r":126,"v":1.05},{"s":"Q113K","r":127,"v":1.10},{"s":"Q113K","r":128,"v":1.00},{"s":"Q113K","r":129,"v":1.05},{"s":"Q113K","r":130,"v":2.88},{"s":"Q113K","r":132,"v":2.80},{"s":"Q113K","r":134,"v":2.80},{"s":"Q113K","r":135,"v":2.70},{"s":"Q113K","r":137,"v":2.70},{"s":"Q113K","r":138,"v":2.80},{"s":"Q113K","r":140,"v":2.85},{"s":"Q113K","r":141,"v":3.00},{"s":"Q113K","r":142,"v":3.20},{"s":"Q113K","r":144,"v":3.40},{"s":"Q113K","r":145,"v":3.55},{"s":"Q113K","r":146,"v":3.75},
{"s":"V105G","r":5,"v":1.02},{"s":"V105G","r":7,"v":0.90},{"s":"V105G","r":9,"v":0.80},{"s":"V105G","r":10,"v":0.65},{"s":"V105G","r":12,"v":0.50},{"s":"V105G","r":14,"v":0.40},{"s":"V105G","r":16,"v":0.35},{"s":"V105G","r":18,"v":0.30},{"s":"V105G","r":20,"v":0.25},{"s":"V105G","r":22,"v":0.22},{"s":"V105G","r":24,"v":0.22},{"s":"V105G","r":26,"v":0.20},{"s":"V105G","r":28,"v":0.22},{"s":"V105G","r":30,"v":0.18},{"s":"V105G","r":32,"v":0.16},{"s":"V105G","r":34,"v":0.15},{"s":"V105G","r":36,"v":0.14},{"s":"V105G","r":38,"v":0.16},{"s":"V105G","r":40,"v":0.20},{"s":"V105G","r":42,"v":0.15},{"s":"V105G","r":44,"v":0.13},{"s":"V105G","r":46,"v":0.15},{"s":"V105G","r":48,"v":0.18},{"s":"V105G","r":50,"v":0.20},{"s":"V105G","r":52,"v":0.22},{"s":"V105G","r":54,"v":0.22},{"s":"V105G","r":56,"v":0.20},{"s":"V105G","r":58,"v":0.18},{"s":"V105G","r":60,"v":0.20},{"s":"V105G","r":62,"v":0.22},{"s":"V105G","r":64,"v":0.25},{"s":"V105G","r":66,"v":0.22},{"s":"V105G","r":68,"v":0.18},{"s":"V105G","r":70,"v":0.14},{"s":"V105G","r":72,"v":0.12},{"s":"V105G","r":74,"v":0.15},{"s":"V105G","r":76,"v":0.18},{"s":"V105G","r":78,"v":0.18},{"s":"V105G","r":80,"v":0.20},{"s":"V105G","r":82,"v":0.18},{"s":"V105G","r":84,"v":0.20},{"s":"V105G","r":86,"v":0.18},{"s":"V105G","r":88,"v":0.22},{"s":"V105G","r":90,"v":0.22},{"s":"V105G","r":92,"v":0.25},{"s":"V105G","r":94,"v":0.30},{"s":"V105G","r":96,"v":0.35},{"s":"V105G","r":98,"v":0.38},{"s":"V105G","r":100,"v":0.38},{"s":"V105G","r":102,"v":0.30},{"s":"V105G","r":104,"v":0.25},{"s":"V105G","r":106,"v":0.22},{"s":"V105G","r":108,"v":0.22},{"s":"V105G","r":110,"v":0.20},{"s":"V105G","r":112,"v":0.22},{"s":"V105G","r":114,"v":0.25},{"s":"V105G","r":116,"v":0.28},{"s":"V105G","r":118,"v":0.30},{"s":"V105G","r":120,"v":0.32},{"s":"V105G","r":122,"v":0.33},{"s":"V105G","r":124,"v":0.35},{"s":"V105G","r":126,"v":0.40},{"s":"V105G","r":127,"v":0.55},{"s":"V105G","r":128,"v":0.75},{"s":"V105G","r":129,"v":0.90},{"s":"V105G","r":130,"v":1.20},{"s":"V105G","r":133,"v":1.22},{"s":"V105G","r":135,"v":1.23},{"s":"V105G","r":137,"v":1.25},{"s":"V105G","r":139,"v":1.30},{"s":"V105G","r":140,"v":1.35},{"s":"V105G","r":141,"v":1.35},{"s":"V105G","r":143,"v":1.40},{"s":"V105G","r":145,"v":1.47},{"s":"V105G","r":146,"v":1.53}
]
},
"vconcat": [
{
 "width": 608, "height": 224, "title": {"text": "RMSF", "offset": 5},
 "layer": [
  {"data": {"name": "A"}, "mark": {"type": "line", "strokeWidth": 1.8},
   "encoding": {
    "x": {"field": "r", "type": "quantitative", "scale": {"domain": [0, 160], "nice": false}, "axis": {"values": [0,20,40,60,80,100,120,140,160], "title": "Residue"}},
    "y": {"field": "v", "type": "quantitative", "scale": {"domain": [0, 3.5], "nice": false}, "axis": {"values": [0,0.5,1,1.5,2,2.5,3,3.5], "format": ".1~f", "title": "RMSF (nm)"}},
    "color": {"field": "s", "type": "nominal", "scale": {"domain": ["BCL6","I60T","I78T","Q113K","V105G"], "range": ["#5B9BD5","#ED7D31","#A5A5A5","#FFC000","#4472C4"]}, "legend": {"legendX": 635, "legendY": 93, "labelExpr": "datum.label + '-SMRT'"}}
   }},
  {"data": {"values": [{}]}, "mark": {"type": "text", "fontSize": 40, "color": "#000000", "align": "center", "baseline": "middle", "font": "Lato"},
   "encoding": {
    "x": {"datum": 175.7, "type": "quantitative", "scale": {"domain": [0, 160], "nice": false}, "axis": {"values": [0,20,40,60,80,100,120,140,160], "title": "Residue"}},
    "y": {"datum": 3.15, "type": "quantitative", "scale": {"domain": [0, 3.5], "nice": false}, "axis": {"values": [0,0.5,1,1.5,2,2.5,3,3.5], "format": ".1~f", "title": "RMSF (nm)"}},
    "text": {"value": "A"}}}
 ]
},
{
 "width": 608, "height": 224, "title": {"text": "RMSF", "offset": -2},
 "layer": [
  {"data": {"name": "B"}, "mark": {"type": "line", "strokeWidth": 1.8},
   "encoding": {
    "x": {"field": "r", "type": "quantitative", "scale": {"domain": [0, 160], "nice": false}, "axis": {"values": [0,20,40,60,80,100,120,140,160], "title": "Residue"}},
    "y": {"field": "v", "type": "quantitative", "scale": {"domain": [0, 3.5], "nice": false}, "axis": {"values": [0,0.5,1,1.5,2,2.5,3,3.5], "format": ".1~f", "title": "RMSF (nm)"}},
    "color": {"field": "s", "type": "nominal", "scale": {"domain": ["BCL6","I60T","I78T","Q113K","V105G"], "range": ["#4472C4","#ED7D31","#A5A5A5","#FFC000","#5B9BD5"]}, "legend": {"legendX": 635, "legendY": 88, "labelExpr": "datum.label + '-NCoR'"}}
   }},
  {"data": {"values": [{}]}, "mark": {"type": "text", "fontSize": 32, "color": "#000000", "align": "center", "baseline": "middle", "font": "Lato"},
   "encoding": {
    "x": {"datum": 177, "type": "quantitative", "scale": {"domain": [0, 160], "nice": false}, "axis": {"values": [0,20,40,60,80,100,120,140,160], "title": "Residue"}},
    "y": {"datum": 3.38, "type": "quantitative", "scale": {"domain": [0, 3.5], "nice": false}, "axis": {"values": [0,0.5,1,1.5,2,2.5,3,3.5], "format": ".1~f", "title": "RMSF (nm)"}},
    "text": {"value": "B"}}}
 ]
},
{
 "width": 608, "height": 224, "title": {"text": "RMSF", "offset": -3},
 "layer": [
  {"data": {"name": "C"}, "mark": {"type": "line", "strokeWidth": 1.8},
   "encoding": {
    "x": {"field": "r", "type": "quantitative", "scale": {"domain": [0, 160], "nice": false}, "axis": {"values": [0,20,40,60,80,100,120,140,160], "title": "Residue"}},
    "y": {"field": "v", "type": "quantitative", "scale": {"domain": [0, 4], "nice": false}, "axis": {"values": [0,0.5,1,1.5,2,2.5,3,3.5,4], "format": ".1~f", "title": "RMSF (nm)"}},
    "color": {"field": "s", "type": "nominal", "scale": {"domain": ["BCL6","I60T","I78T","Q113K","V105G"], "range": ["#5B9BD5","#ED7D31","#A5A5A5","#FFC000","#4472C4"]}, "legend": {"legendX": 635, "legendY": 102, "labelExpr": "datum.label + '-BCoR'"}}
   }},
  {"data": {"values": [{}]}, "mark": {"type": "text", "fontSize": 38, "color": "#000000", "align": "center", "baseline": "middle", "font": "Lato"},
   "encoding": {
    "x": {"datum": 176.5, "type": "quantitative", "scale": {"domain": [0, 160], "nice": false}, "axis": {"values": [0,20,40,60,80,100,120,140,160], "title": "Residue"}},
    "y": {"datum": 3.85, "type": "quantitative", "scale": {"domain": [0, 4], "nice": false}, "axis": {"values": [0,0.5,1,1.5,2,2.5,3,3.5,4], "format": ".1~f", "title": "RMSF (nm)"}},
    "text": {"value": "C"}}}
 ]
}
]
}
